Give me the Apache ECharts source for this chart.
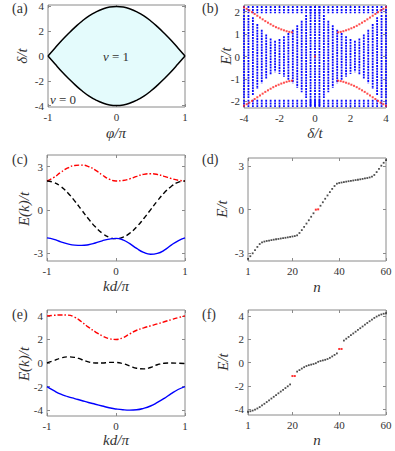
<!DOCTYPE html>
<html><head><meta charset="utf-8">
<script src="https://cdn.jsdelivr.net/npm/echarts@6/dist/echarts.min.js"></script>
<style>html,body{margin:0;padding:0;background:#fff}#c{width:395px;height:451px}</style>
</head><body><div id="c"></div>
<script>
// ---------- Panel (a): phase diagram ----------
const aPhi = [-1,-0.9,-0.8,-0.7,-0.6,-0.5,-0.4,-0.3,-0.2,-0.1,0,0.1,0.2,0.3,0.4,0.5,0.6,0.7,0.8,0.9,1];
const aUpper = [0,0.63,1.25,1.82,2.35,2.83,3.24,3.56,3.80,3.95,4.0,3.95,3.80,3.56,3.24,2.83,2.35,1.82,1.25,0.63,0];
const aLower = [0,-0.63,-1.25,-1.82,-2.35,-2.83,-3.24,-3.56,-3.80,-3.95,-4.0,-3.95,-3.80,-3.56,-3.24,-2.83,-2.35,-1.82,-1.25,-0.63,0];
const aXTicks = [-1,0,1];
const aYTicks = [-4,-2,0,2,4];

// ---------- Panel (b): spectrum vs delta ----------
const bDelta = [-4,-3.75,-3.5,-3.25,-3,-2.75,-2.5,-2.25,-2,-1.75,-1.5,-1.25,-1,-0.75,-0.5,-0.25,0,0.25,0.5,0.75,1,1.25,1.5,1.75,2,2.25,2.5,2.75,3,3.25,3.5,3.75,4];
const bMidTop = [1.85,1.85,1.75,1.45,1.2,0.98,0.8,0.7,0.78,0.9,1.05,1.2,1.4,1.6,1.85,2.25,2.25,2.25,1.85,1.6,1.4,1.2,1.05,0.9,0.78,0.7,0.8,0.98,1.2,1.45,1.75,1.85,1.85];
const bMidBottom = [-1.85,-1.85,-1.75,-1.45,-1.2,-0.98,-0.8,-0.7,-0.78,-0.9,-1.05,-1.2,-1.4,-1.6,-1.85,-2.25,-2.25,-2.25,-1.85,-1.6,-1.4,-1.2,-1.05,-0.9,-0.78,-0.7,-0.8,-0.98,-1.2,-1.45,-1.75,-1.85,-1.85];
const bUpperBand = [1.93, 2.25];
const bLowerBand = [-2.25, -1.93];
const bEdgeLeftDelta = [-4,-3.85,-3.7,-3.55,-3.4,-3.25,-3.1,-2.95,-2.8,-2.65,-2.5,-2.35,-2.2,-2.05,-1.9,-1.75,-1.6,-1.45,-1.3];
const bEdgeUpperLeftE = [2.2,2.13,2.06,1.98,1.9,1.82,1.74,1.66,1.58,1.51,1.44,1.37,1.31,1.26,1.21,1.17,1.13,1.1,1.08];
const bEdgeLowerLeftE = [-2.2,-2.13,-2.06,-1.98,-1.9,-1.82,-1.74,-1.66,-1.58,-1.51,-1.44,-1.37,-1.31,-1.26,-1.21,-1.17,-1.13,-1.1,-1.08];
const bEdgeRightDelta = [1.3,1.45,1.6,1.75,1.9,2.05,2.2,2.35,2.5,2.65,2.8,2.95,3.1,3.25,3.4,3.55,3.7,3.85,4];
const bEdgeUpperRightE = [1.08,1.1,1.13,1.17,1.21,1.26,1.31,1.37,1.44,1.51,1.58,1.66,1.74,1.82,1.9,1.98,2.06,2.13,2.2];
const bEdgeLowerRightE = [-1.08,-1.1,-1.13,-1.17,-1.21,-1.26,-1.31,-1.37,-1.44,-1.51,-1.58,-1.66,-1.74,-1.82,-1.9,-1.98,-2.06,-2.13,-2.2];
const bEdgeCenter = [0, 0];
const bXTicks = [-4,-2,0,2,4];
const bYTicks = [-2,-1,0,1,2];

// ---------- Panel (c): bands ----------
const cK = [-1,-0.9,-0.8,-0.7,-0.6,-0.5,-0.4,-0.3,-0.2,-0.1,0,0.1,0.2,0.3,0.4,0.5,0.6,0.7,0.8,0.9,1];
const cRed = [2.0,2.25,2.6,2.9,3.07,3.1,3.0,2.75,2.42,2.13,2.0,2.03,2.15,2.32,2.46,2.5,2.45,2.32,2.17,2.05,2.0];
const cBlack = [2.0,1.9,1.62,1.18,0.62,0.0,-0.62,-1.18,-1.62,-1.9,-2.0,-1.9,-1.62,-1.18,-0.62,0.0,0.62,1.18,1.62,1.9,2.0];
const cBlue = [-1.95,-2.05,-2.22,-2.36,-2.45,-2.47,-2.42,-2.3,-2.15,-2.03,-1.98,-2.08,-2.35,-2.68,-2.95,-3.08,-3.02,-2.8,-2.45,-2.15,-1.95];
const cXTicks = [-1,0,1];
const cYTicks = [-3,0,3];

// ---------- Panel (d): eigenvalues ----------
const dN = [1,2,3,4,5,6,7,8,9,10,11,12,13,14,15,16,17,18,19,20,21,22,23,24,25,26,27,28,29,30,31,32,33,34,35,36,37,38,39,40,41,42,43,44,45,46,47,48,49,50,51,52,53,54,55,56,57,58,59,60];
const dE = [-3.40,-3.22,-3.02,-2.80,-2.58,-2.38,-2.26,-2.21,-2.17,-2.14,-2.11,-2.08,-2.05,-2.03,-2.00,-1.97,-1.95,-1.92,-1.89,-1.86,-1.83,-1.78,-1.62,-1.42,-1.20,-0.97,-0.74,-0.50,-0.26,-0.01,0.01,0.26,0.50,0.74,0.97,1.20,1.42,1.62,1.78,1.83,1.86,1.89,1.92,1.95,1.97,2.00,2.03,2.05,2.08,2.11,2.14,2.17,2.21,2.26,2.38,2.58,2.80,3.02,3.22,3.40];
const dRedN = [30,31];
const dXTicks = [1,20,40,60];
const dYTicks = [-3,0,3];

// ---------- Panel (e): bands ----------
const eK = [-1,-0.9,-0.8,-0.7,-0.6,-0.5,-0.4,-0.3,-0.2,-0.1,0,0.1,0.2,0.3,0.4,0.5,0.6,0.7,0.8,0.9,1];
const eRed = [4.0,4.05,4.08,4.07,3.9,3.5,3.05,2.65,2.3,2.07,2.0,2.15,2.48,2.78,2.98,3.15,3.32,3.5,3.68,3.85,4.0];
const eBlack = [0.0,0.2,0.42,0.52,0.48,0.3,0.1,0.0,0.0,0.05,0.05,-0.05,-0.25,-0.45,-0.5,-0.38,-0.15,-0.02,0.0,-0.02,-0.05];
const eBlue = [-2.0,-2.35,-2.65,-2.85,-3.02,-3.18,-3.35,-3.5,-3.65,-3.8,-3.9,-3.97,-4.0,-3.97,-3.85,-3.65,-3.35,-3.0,-2.6,-2.25,-2.0];
const eXTicks = [-1,0,1];
const eYTicks = [-4,-2,0,2,4];

// ---------- Panel (f): eigenvalues ----------
const fN = dN;
const fE = [-4.22,-4.18,-4.12,-4.04,-3.94,-3.82,-3.68,-3.54,-3.39,-3.24,-3.09,-2.94,-2.79,-2.64,-2.49,-2.34,-2.19,-2.04,-1.88,-1.16,-1.16,-0.78,-0.65,-0.52,-0.40,-0.30,-0.23,-0.18,-0.13,-0.06,0.06,0.13,0.18,0.23,0.30,0.40,0.52,0.65,0.78,1.16,1.16,1.88,2.04,2.19,2.34,2.49,2.64,2.79,2.94,3.09,3.24,3.39,3.54,3.68,3.82,3.94,4.04,4.12,4.18,4.22];
const fRedN = [20,21,40,41];
const fXTicks = [1,20,40,60];
const fYTicks = [-4,-2,0,2,4];

// ---------- layout ----------
const SERIF = '"Liberation Serif","DejaVu Serif",serif';
const BOX = '#8a8a8a';
const TXT = '#333';
const grids = [
  {left:48, top:5, width:137, height:102},
  {left:244, top:5, width:142, height:103},
  {left:47, top:155, width:138, height:106},
  {left:248, top:158, width:138, height:103},
  {left:47, top:310, width:138, height:106},
  {left:248, top:310, width:138, height:105}
];
const ranges = [
  {x:[-1,1], y:[-4.12,4.12], xt:aXTicks, yt:aYTicks},
  {x:[-4,4], y:[-2.3,2.3], xt:bXTicks, yt:bYTicks},
  {x:[-1,1], y:[-3.55,3.8], xt:cXTicks, yt:cYTicks},
  {x:[1,60], y:[-3.55,3.55], xt:dXTicks, yt:dYTicks},
  {x:[-1,1], y:[-4.5,4.5], xt:eXTicks, yt:eYTicks},
  {x:[1,60], y:[-4.5,4.5], xt:fXTicks, yt:fYTicks}
];

const xAxes = [], yAxes = [];
ranges.forEach((r, gi) => {
  ['bottom','top'].forEach(pos => xAxes.push({
    type:'value', gridIndex:gi, position:pos, min:r.x[0], max:r.x[1],
    axisLine:{show:false, onZero:false}, splitLine:{show:false},
    axisTick:{show:true, inside:true, length:3, customValues:r.xt, lineStyle:{color:BOX}},
    axisLabel:{show:pos==='bottom', customValues:r.xt, margin:4, fontFamily:SERIF, fontSize:11, color:TXT}
  }));
  ['left','right'].forEach(pos => yAxes.push({
    type:'value', gridIndex:gi, position:pos, min:r.y[0], max:r.y[1],
    axisLine:{show:false, onZero:false}, splitLine:{show:false},
    axisTick:{show:true, inside:true, length:3, customValues:r.yt, lineStyle:{color:BOX}},
    axisLabel:{show:pos==='left', customValues:r.yt, margin:4, fontFamily:SERIF, fontSize:11, color:TXT}
  }));
});

const pairs = (xs, ys) => xs.map((x, i) => [x, ys[i]]);
const line = (gi, xs, ys, color, dash, extra) => Object.assign({
  type:'line', xAxisIndex:gi*2, yAxisIndex:gi*2, data:pairs(xs, ys),
  showSymbol:false, smooth:true, silent:true,
  lineStyle:{color, width:1.4, type:dash}
}, extra || {});

// panel b segments
const bSegments = [];
bDelta.forEach((d, i) => {
  bSegments.push([d, bUpperBand[0], bUpperBand[1]]);
  bSegments.push([d, bMidBottom[i], bMidTop[i]]);
  bSegments.push([d, bLowerBand[0], bLowerBand[1]]);
});
const bRed = [].concat(
  pairs(bEdgeLeftDelta, bEdgeUpperLeftE), pairs(bEdgeLeftDelta, bEdgeLowerLeftE),
  pairs(bEdgeRightDelta, bEdgeUpperRightE), pairs(bEdgeRightDelta, bEdgeLowerRightE),
  [bEdgeCenter]);

const dots = (gi, ns, es, redNs) => [
  {type:'scatter', xAxisIndex:gi*2, yAxisIndex:gi*2, symbol:'rect', symbolSize:1.8, silent:true,
   itemStyle:{color:'#222'}, data:pairs(ns, es).filter(p => redNs.indexOf(p[0]) < 0)},
  {type:'scatter', xAxisIndex:gi*2, yAxisIndex:gi*2, symbol:'rect', symbolSize:2, silent:true,
   itemStyle:{color:'#ff0000'}, data:pairs(ns, es).filter(p => redNs.indexOf(p[0]) >= 0)}
];

const series = [
  line(0, aPhi, aUpper, '#000', 'solid', {areaStyle:{color:'#e4fbfc', opacity:1, origin:0}, lineStyle:{color:'#000', width:1.5}}),
  line(0, aPhi, aLower, '#000', 'solid', {areaStyle:{color:'#e4fbfc', opacity:1, origin:0}, lineStyle:{color:'#000', width:1.5}}),
  {type:'custom', xAxisIndex:2, yAxisIndex:2, data:bSegments, silent:true,
   encode:{x:0, y:[1,2]},
   renderItem:(params, api) => {
     const p1 = api.coord([api.value(0), api.value(2)]);
     const p2 = api.coord([api.value(0), api.value(1)]);
     return {type:'line', shape:{x1:p1[0], y1:p1[1], x2:p2[0], y2:p2[1]},
             style:{stroke:'#0a0aff', lineWidth:1.8, lineDash:[2,0.8]}};
   }},
  {type:'scatter', xAxisIndex:2, yAxisIndex:2, symbol:'rect', symbolSize:2, silent:true, z:5,
   itemStyle:{color:'#ff2020'}, data:bRed},
  line(2, cK, cRed, '#ff0000', [5,2,1.5,2]),
  line(2, cK, cBlack, '#000', [5,3]),
  line(2, cK, cBlue, '#0000ff', 'solid'),
  ...dots(3, dN, dE, dRedN),
  line(4, eK, eRed, '#ff0000', [5,2,1.5,2]),
  line(4, eK, eBlack, '#000', [5,3]),
  line(4, eK, eBlue, '#0000ff', 'solid'),
  ...dots(5, fN, fE, fRedN)
];

const txt = (text, x, y, opts) => ({type:'text', x, y, silent:true, z:100,
  rotation: (opts && opts.rot) || 0,
  style:Object.assign({text, fill:TXT, font:'14px ' + SERIF, align:'left', verticalAlign:'middle'}, (opts && opts.style) || {})});
const ytitle = (text, x, y) => txt(text, x, y, {rot:Math.PI/2, style:{font:'italic 15px ' + SERIF, align:'center'}});
const xtitle = (text, x, y) => txt(text, x, y, {style:{font:'italic 15px ' + SERIF, align:'center'}});

const graphic = [
  txt('(a)', 12, 8), txt('(b)', 202, 8), txt('(c)', 12, 159),
  txt('(d)', 202, 159), txt('(e)', 12, 314), txt('(f)', 202, 314),
  txt('{i|ν} = 1', 116, 56, {style:{align:'center', font:'13px ' + SERIF, rich:{i:{fontStyle:'italic', fontFamily:SERIF, fontSize:13}}}}),
  txt('{i|ν} = 0', 50, 99, {style:{font:'13px ' + SERIF, rich:{i:{fontStyle:'italic', fontFamily:SERIF, fontSize:13}}}}),
  ytitle('δ/t', 22, 56), xtitle('φ/π', 116, 133),
  ytitle('E/t', 226, 56), xtitle('δ/t', 315, 133),
  ytitle('E(k)/t', 24, 209), xtitle('kd/π', 116, 286),
  ytitle('E/t', 222, 209), xtitle('n', 317, 287),
  ytitle('E(k)/t', 24, 364), xtitle('kd/π', 116, 440),
  ytitle('E/t', 223, 362), xtitle('n', 317, 440)
];

const chart = echarts.init(document.getElementById('c'), null, {renderer:'svg', width:395, height:451});
chart.setOption({
  animation:false,
  backgroundColor:'#fff',
  grid:grids.map(g => Object.assign({show:true, borderColor:BOX, borderWidth:1, backgroundColor:'transparent', containLabel:false}, g)),
  xAxis:xAxes, yAxis:yAxes, series, graphic
});
</script></body></html>
